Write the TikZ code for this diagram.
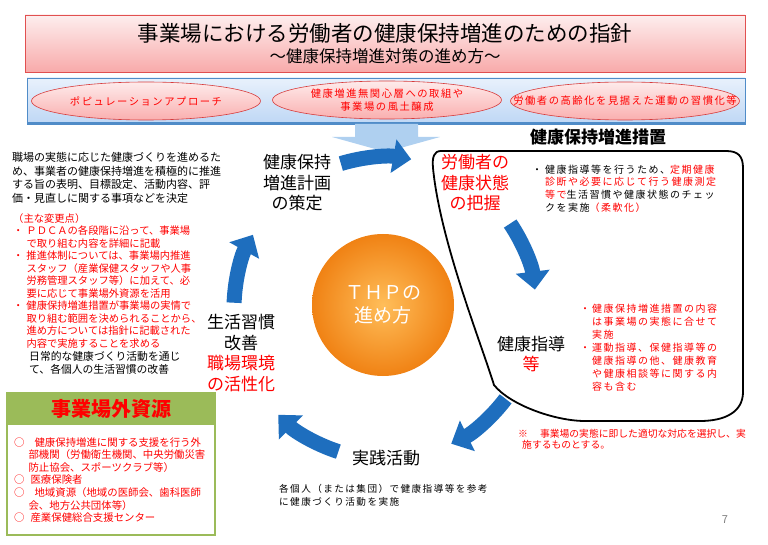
\documentclass[tikz,border=0pt]{standalone}
\usepackage{fontspec}
\setmainfont{Noto Sans CJK JP}
\newfontfamily\jpwide[LetterSpace=15]{Noto Sans CJK JP}
\usetikzlibrary{arrows.meta,shapes.geometric,positioning}
\definecolor{titlered}{RGB}{225,80,80}
\definecolor{titlepink}{RGB}{248,170,170}
\definecolor{bandblue}{RGB}{190,215,245}
\definecolor{bandline}{RGB}{80,140,200}
\definecolor{ellred}{RGB}{215,60,60}
\definecolor{ellpink}{RGB}{250,175,175}
\definecolor{thporange}{RGB}{240,130,20}
\definecolor{thplight}{RGB}{255,190,90}
\definecolor{thpblue}{RGB}{30,110,190}
\definecolor{skyarrow}{RGB}{175,208,240}
\definecolor{extgreen}{RGB}{155,187,89}
\tikzset{
  cyclabel/.style={font=\fontsize{17}{20.5}\selectfont,align=center,inner sep=0pt},
  cycarrow/.style={draw=thpblue,line width=15pt,-{Triangle[width=33pt,length=18pt]}},
  bandellipse/.style={ellipse,draw=ellred,line width=0.6pt,top color=ellpink!25,bottom color=ellpink,
    minimum width=229pt,minimum height=38pt,inner sep=0pt},
  ellipsetext/.style={text=red,align=center,inner sep=0pt,font=\jpwide\fontsize{10.3}{12.5}\selectfont},
  smalltext/.style={anchor=north west,align=left,inner sep=0pt},
}
\begin{document}
\begin{tikzpicture}[x=1pt,y=-1pt]
\useasboundingbox (0,0) rectangle (768,545);
% title
\draw[draw=titlered,top color=titlepink!20,bottom color=titlepink,line width=0.8pt] (25,15) rectangle (745,72);
\node (title) at (385,33) {\fontsize{21.5}{24}\selectfont 事業場における労働者の健康保持増進のための指針};
\node (subtitle) at (385,56) {\fontsize{16.5}{20}\selectfont ～健康保持増進対策の進め方～};
% band with the three approaches
\fill[top color=bandblue!35,bottom color=bandblue] (27,78) rectangle (745,124);
\draw[bandline,line width=0.6pt] (27,78) rectangle (745,124);
\draw[bandline,line width=2pt] (27,123) -- (745,123);
\node[bandellipse] (popu) at (146,101) {};
\node[bandellipse] (apathy) at (387,100) {};
\node[bandellipse] (aging) at (625,101) {};
\node[ellipsetext] at (popu) {ポピュレーションアプローチ};
\node[ellipsetext] at (apathy) {健康増進無関心層への取組や\\事業場の風土醸成};
\node[ellipsetext] at (aging) {労働者の高齢化を見据えた運動の習慣化等};
\fill[skyarrow] (355,124) -- (418,124) -- (418,137) -- (440,137) -- (386,152) -- (332,137) -- (355,137) -- cycle;
% measures outline
\node[font=\bfseries\fontsize{17}{20}\selectfont] (measures) at (598,137) {健康保持増進措置};
\draw[line width=1.8pt,fill=white] (441,151) -- (726,151) .. controls (738,151) and (743,156) .. (743,168)
  -- (743,392) .. controls (743,412) and (725,421) .. (700,421)
  -- (585,421) .. controls (555,421) and (510,405) .. (494,385)
  .. controls (480,340) and (440,240) .. (433,168)
  .. controls (432,157) and (434,151) .. (441,151) -- cycle;
% cycle
\coordinate (hub) at (385,308);
\foreach \a in {-107,-34,37,108,182}
  \draw[cycarrow] ([shift={(\a:151)}]hub) arc[start angle=\a,end angle=\a+27,radius=151];
\node[circle,minimum size=142pt,inner color=thplight,outer color=thporange,text=white,align=center,
  font=\fontsize{19}{23}\selectfont] (thp) at (383,305) {ＴＨＰの\\進め方};
\node[cyclabel] (plan) at (297,183) {健康保持\\増進計画\\の策定};
\node[cyclabel,text=red] (check) at (475,183) {労働者の\\健康状態\\の把握};
\node[cyclabel] (guide) at (531,354) {健康指導\\{\color{red}等}};
\node[cyclabel] (practice) at (386,458) {実践活動};
\node[cyclabel] (improve) at (241,353) {生活習慣\\改善\\{\color{red}職場環境}\\{\color{red}の活性化}};
% notes
\node[smalltext,font=\fontsize{11}{13.7}\selectfont] (plannote) at (12,152)
  {職場の実態に応じた健康づくりを進めるた\\め、事業者の健康保持増進を積極的に推進\\する旨の表明、目標設定、活動内容、評\\価・見直しに関する事項などを決定};
\node[smalltext,text=red,font=\fontsize{10.3}{12.5}\selectfont] (changes) at (13,213)
  {\begin{tabular}{@{}l@{\hspace{3pt}}l@{}}
  \multicolumn{2}{@{}l}{（主な変更点）}\\
  ・ & ＰＤＣＡの各段階に沿って、事業場\\
     & で取り組む内容を詳細に記載\\
  ・ & 推進体制については、事業場内推進\\
     & スタッフ（産業保健スタッフや人事\\
     & 労務管理スタッフ等）に加えて、必\\
     & 要に応じて事業場外資源を活用\\
  ・ & 健康保持増進措置が事業場の実情で\\
     & 取り組む範囲を決められることから、\\
     & 進め方については指針に記載された\\
     & 内容で実施することを求める
  \end{tabular}};
\node[smalltext,font=\fontsize{10.8}{13}\selectfont] (improvenote) at (29,351)
  {日常的な健康づくり活動を通じ\\て、各個人の生活習慣の改善};
\node[smalltext,font=\jpwide\fontsize{9.6}{13}\selectfont] (practicenote) at (279,484)
  {各個人（または集団）で健康指導等を参考\\に健康づくり活動を実施};
\node[smalltext,font=\jpwide\fontsize{10}{12.8}\selectfont] (checknote) at (532,164)
  {\begin{tabular}{@{}l@{\hspace{3pt}}l@{}}
  ・ & 健康指導等を行うため、{\color{red}定期健康}\\
     & {\color{red}診断や必要に応じて行う健康測定}\\
     & {\color{red}等で}生活習慣や健康状態のチェッ\\
     & クを実施{\color{red}（柔軟化）}
  \end{tabular}};
\node[smalltext,text=red,font=\jpwide\fontsize{10}{13.1}\selectfont] (guidenote) at (580,303)
  {\begin{tabular}{@{}l@{\hspace{2pt}}l@{}}
  ・ & 健康保持増進措置の内容\\
     & は事業場の実態に合せて\\
     & 実施\\
  ・ & 運動指導、保健指導等の\\
     & 健康指導の他、健康教育\\
     & や健康相談等に関する内\\
     & 容も含む
  \end{tabular}};
\node[smalltext,text=red,font=\fontsize{9.8}{11.5}\selectfont] (caution) at (518,429)
  {※\hspace{12pt}事業場の実態に即した適切な対応を選択し、実\\\hspace{4pt}施するものとする。};
% outside resources
\fill[extgreen] (7,393) rectangle (215,425);
\draw[extgreen,line width=1.5pt] (7,393) rectangle (215,535);
\node[font=\bfseries\fontsize{20}{24}\selectfont,text=red] (extres) at (111,409) {事業場外資源};
\node[smalltext,text=red,font=\fontsize{10.4}{12.6}\selectfont] (extlist) at (14,437)
  {\begin{tabular}{@{}l@{\hspace{4pt}}l@{}}
  ○ & \hspace{6pt}健康保持増進に関する支援を行う外\\
    & 部機関（労働衛生機関、中央労働災害\\
    & 防止協会、スポーツクラブ等）\\
  ○ & \hspace{2pt}医療保険者\\
  ○ & \hspace{6pt}地域資源（地域の医師会、歯科医師\\
    & 会、地方公共団体等）\\
  ○ & \hspace{2pt}産業保健総合支援センター
  \end{tabular}};
\node[text=gray,font=\fontsize{11}{13}\selectfont] (pagenum) at (725,520) {7};
\end{tikzpicture}
\end{document}
